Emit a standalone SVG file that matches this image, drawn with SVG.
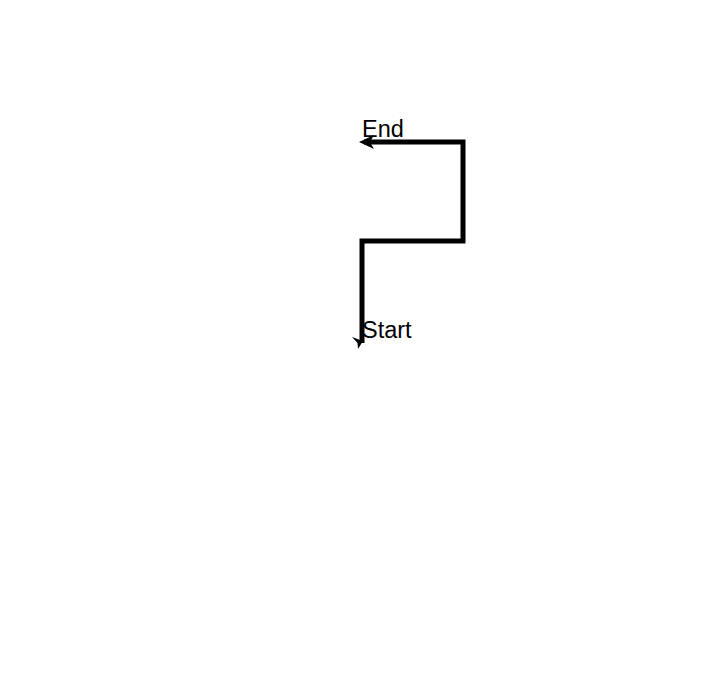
<svg xmlns="http://www.w3.org/2000/svg" width="719" height="675" viewBox="0 0 719 675">
<style>
.lbl{font-family:"Liberation Sans",Arial,sans-serif;font-size:23.5px;fill:#000}
.wire{fill:none;stroke:#000;stroke-width:5;stroke-linejoin:miter}
</style>
<defs>
<marker id="ah" markerWidth="4" markerHeight="4" refX="2" refY="2" orient="auto" markerUnits="strokeWidth">
<path d="M0,0.6 L3,2 L0,3.4 L0.8,2 Z" fill="#000"/>
</marker>
</defs>
<rect width="719" height="675" fill="#fff"/>
<g id="connectors">
<path class="wire" d="M362,343 L362,241 L463,241 L463,142 L364,142" marker-end="url(#ah)"/>
<path d="M352,337 L363,341 L358,349 L357.5,343 Z" fill="#000"/>
</g>
<g id="start"><text class="lbl" x="362" y="338">Start</text></g>
<g id="end"><text class="lbl" x="362" y="137">End</text></g>
</svg>
